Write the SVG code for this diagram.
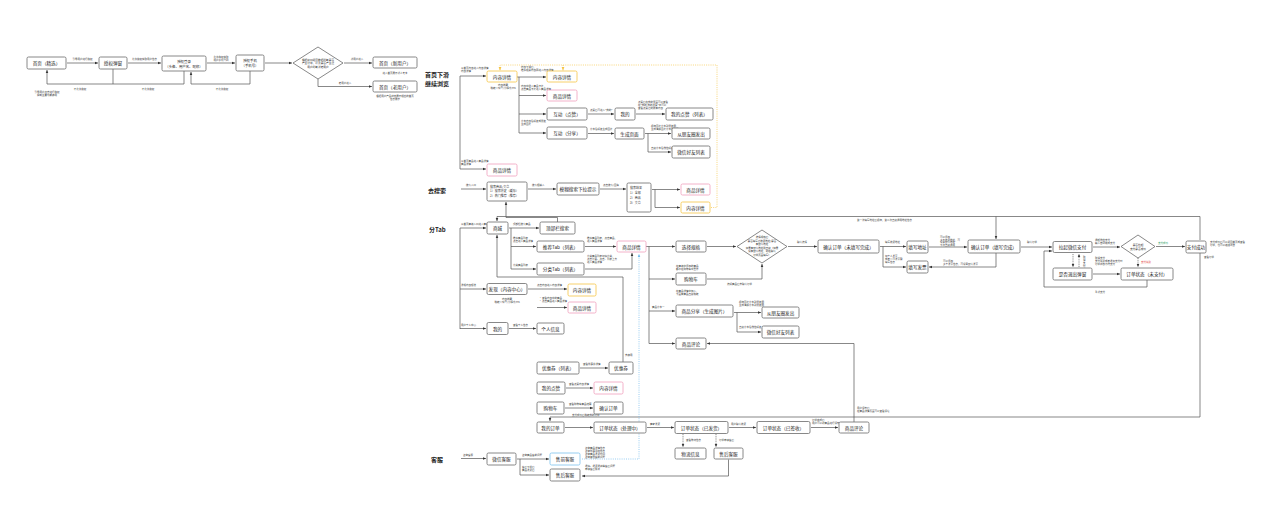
<svg xmlns="http://www.w3.org/2000/svg" width="1280" height="524" viewBox="0 0 1280 524">
<style>
text{font-family:"Noto Sans CJK SC","Noto Sans",sans-serif;fill:#222}
.n rect,.n polygon{fill:#fff;stroke:#6a6a6a;stroke-width:0.8}
.y rect{stroke:#f5c444}
.p rect{stroke:#f0a0bd}
.b rect{stroke:#7cc2ee}
.t{font-size:4.6px;text-anchor:middle;dominant-baseline:central}
.s{font-size:3.4px;text-anchor:middle;dominant-baseline:central}
.d{font-size:2.7px;text-anchor:middle;dominant-baseline:central}
.l{font-size:2.5px;fill:#333}
.m{font-size:2.5px;fill:#333;text-anchor:middle}
.h{font-size:6px;font-weight:bold}
.c{fill:none;stroke:#555;stroke-width:0.7}
.a{marker-end:url(#ar)}
.dash{stroke-dasharray:1.2 1}
.yl{fill:none;stroke:#f5c444;stroke-width:0.7;stroke-dasharray:1 1.2;marker-end:url(#ay)}
.bl{fill:none;stroke:#6fb8ec;stroke-width:0.7;stroke-dasharray:1 1.2;marker-end:url(#ab)}
</style>
<defs>
<marker id="ar" markerWidth="4" markerHeight="4" refX="3.4" refY="2" orient="auto" markerUnits="userSpaceOnUse"><path d="M0,0.6 L3.4,2 L0,3.4z" fill="#333"/></marker>
<marker id="ay" markerWidth="4" markerHeight="4" refX="3.4" refY="2" orient="auto" markerUnits="userSpaceOnUse"><path d="M0,0.6 L3.4,2 L0,3.4z" fill="#f5c444"/></marker>
<marker id="ab" markerWidth="4" markerHeight="4" refX="3.4" refY="2" orient="auto" markerUnits="userSpaceOnUse"><path d="M0,0.6 L3.4,2 L0,3.4z" fill="#6fb8ec"/></marker>
</defs>
<rect width="1280" height="524" fill="#fff"/>

<g id="connectors">
<!-- top-left flow -->
<path class="c a" d="M67,63 H98"/>
<path class="c a" d="M128,63 H161"/>
<path class="c a" d="M207,63 H235"/>
<path class="c a" d="M265,63 H292"/>
<path class="c a" d="M344,63 H372"/>
<path class="c a" d="M318,79 V86.5 H372"/>
<path class="c" d="M113,69 V84"/>
<path class="c a" d="M184,71 V84 H47 V70"/>
<path class="c a" d="M250,71 V84 H191 V72"/>
<!-- 首页下滑 -->
<path class="c" d="M460,76 V169"/>
<path class="c a" d="M460,76 H486"/>
<path class="c a" d="M460,169 H486"/>
<path class="c a" d="M517,77 H546"/>
<path class="c" d="M519,77 V133"/>
<path class="c a" d="M519,95.5 H546"/>
<path class="c a" d="M519,114 H546"/>
<path class="c a" d="M519,133 H546"/>
<path class="c a" d="M588,114 H614"/>
<path class="c a" d="M636,114 H665"/>
<path class="c a" d="M588,133.5 H614"/>
<path class="c a" d="M645,133.5 H671"/>
<path class="c a" d="M648,133.5 V152 H671"/>
<path class="yl" d="M711,207.5 H717 V65 H500 V70.5"/>
<path class="yl" d="M563,65 V70.5"/>
<!-- 去搜索 -->
<path class="c a" d="M461,189 H486"/>
<path class="c a" d="M528,189 H556"/>
<path class="c a" d="M600,189 H626"/>
<path class="c a" d="M652,189.5 H680"/>
<path class="c a" d="M655,189.5 V207.5 H680"/>
<!-- 分Tab -->
<path class="c" d="M460,228 V329"/>
<path class="c a" d="M460,228 H486"/>
<path class="c a" d="M460,289 H486"/>
<path class="c a" d="M460,328.5 H486"/>
<path class="c a" d="M509,228 H539"/>
<path class="c" d="M511,228 V269"/>
<path class="c a" d="M511,246.5 H536"/>
<path class="c a" d="M511,269 H536"/>
<path class="c a" d="M585,246.5 H616"/>
<path class="c a" d="M585,269 H632 V253"/>
<path class="c a" d="M557.5,222 V217.5 H506 V202"/>
<path class="c a" d="M1200,240 V216.5 H497 V221"/>
<path class="c a" d="M996,216.5 V239"/>
<path class="c a" d="M623,362 V277 H497 V235"/>
<path class="c a" d="M528,289 H567"/>
<path class="c a" d="M537,307.5 H567"/>
<path class="c a" d="M509,328.5 H536"/>
<!-- 商品详情 branches -->
<path class="c a" d="M646,246.5 H675"/>
<path class="c" d="M649,246.5 V343.5"/>
<path class="c a" d="M649,279 H675"/>
<path class="c a" d="M649,311 H675"/>
<path class="c a" d="M649,343.5 H675"/>
<path class="c a" d="M707,246.5 H736"/>
<path class="c a" d="M707,279 H762 V264"/>
<path class="c a" d="M788,246.5 H817"/>
<path class="c a" d="M734,312.5 H761"/>
<path class="c a" d="M737,312.5 V332 H761"/>
<path class="c a" d="M854,422 V343.5 H707"/>
<!-- order -->
<path class="c a" d="M880,246.5 H906"/>
<path class="c a" d="M883,246.5 V267 H906"/>
<path class="c a" d="M929,247 H967"/>
<path class="c a" d="M996,253 V267 H929"/>
<path class="c a" d="M1021,247 H1052"/>
<path class="c a" d="M1093,247 H1120"/>
<path class="c a" d="M1156,246.5 H1185"/>
<path class="c a dash" d="M1138,258 V267"/>
<path class="c a dash" d="M1073,254 V267"/>
<path class="c a dash" d="M1079,267 V254"/>
<path class="c a" d="M1093,274 H1120"/>
<path class="c a" d="M1147,280 V287 H1044 V251 H1052"/>
<path class="c a" d="M1200,253 V417 H550 V421"/>
<!-- 我的 -->
<path class="c a" d="M580,368 H608"/>
<path class="c a" d="M566,388 H593"/>
<path class="c a" d="M565,408 H593"/>
<path class="c a" d="M565,427.5 H593"/>
<path class="c a" d="M647,427.5 H674"/>
<path class="c a" d="M729,427.5 H756"/>
<path class="c a" d="M811,427.5 H838"/>
<path class="c a dash" d="M683,434 V447"/>
<path class="c a dash" d="M716,434 V447"/>
<path class="bl" d="M582,459 H639 V254"/>
<!-- 客服 -->
<path class="c a" d="M461,458.5 H486"/>
<path class="c" d="M517,459 H520 V475"/>
<path class="c a" d="M520,459 H549"/>
<path class="c a" d="M520,475 H549"/>
<path class="c a" d="M728.5,459.5 V476 H582"/>
</g>

<g id="edge-labels">
<text class="m" x="82.5" y="60">引导用户进行授权</text>
<text class="m" x="144.5" y="60">允许授权获取用户信息</text>
<text class="m" x="221" y="57.5">允许授权获取</text>
<text class="m" x="221" y="60.5">用户手机号码</text>
<text class="m" x="357" y="60">新用户进入</text>
<text class="m" x="345" y="83.5">老用户进入</text>
<text class="m" x="80" y="89.5">不允许授权</text>
<text class="m" x="148" y="89.5">不允许授权</text>
<text class="m" x="222" y="89.5">不允许授权</text>
<text class="m" x="47" y="93">引导用户点击进行授权</text>
<text class="m" x="47" y="96">限制主要功能使用</text>
<text class="m" x="395" y="73.5">进入首页展示新人专享</text>
<text class="m" x="395" y="97">根据用户产品状态展示相应的首页</text>
<text class="m" x="395" y="100">信息展示</text>

<text class="l" x="461" y="68.5">从首页内容进入内容详情</text>
<text class="l" x="461" y="71.5">内容详情</text>
<text class="l" x="461" y="161.5">从首页商品进入商品详情</text>
<text class="l" x="461" y="164.5">商品详情</text>
<text class="m" x="503" y="85.5">内容收藏</text>
<text class="m" x="503" y="88.5">跳转公众号/小程序/H5</text>
<text class="l" x="521" y="68">内容下滑后，</text>
<text class="l" x="521" y="71">推荐相关内容再进入内容详情</text>
<text class="l" x="521" y="86.5">内容中插入商品卡片，</text>
<text class="l" x="521" y="89.5">点击商品卡片进入商品详情</text>
<text class="l" x="521" y="121.5">分享内容给好友或朋友</text>
<text class="l" x="521" y="124.5">生成图片</text>
<text class="l" x="590" y="110.5">点赞后可进入"我的"</text>
<text class="l" x="638" y="102.5">点赞后在我的里面可以查看</text>
<text class="l" x="638" y="105.5">在"我的-我的点赞"中可以</text>
<text class="l" x="638" y="108.5">查看点赞过的所有内容</text>
<text class="l" x="590" y="130">分享给好友生成图片</text>
<text class="l" x="651" y="126.5">保存图片分享到朋友圈</text>
<text class="l" x="651" y="129.5">生成海报图片分享朋友圈</text>
<text class="l" x="651" y="148.5">直接分享给微信好友</text>

<text class="l" x="466" y="185.5">搜索入口</text>
<text class="l" x="532" y="185.5">搜索框输入</text>
<text class="l" x="603" y="185.5">点击搜索/回车</text>

<text class="l" x="461" y="224.5">从首页商城入口进入商城</text>
<text class="l" x="513" y="224.5">顶部栏搜索商品</text>
<text class="l" x="513" y="238.5">推荐商品列表</text>
<text class="l" x="513" y="241.5">点击进入商品详情</text>
<text class="l" x="513" y="265.5">分类商品列表</text>
<text class="l" x="587" y="238.5">推荐商品列表，点击商品，</text>
<text class="l" x="587" y="241.5">进入商品详情</text>
<text class="l" x="587" y="257">分类商品列表切换分类，</text>
<text class="l" x="587" y="260">点击分类、点击、列表上方</text>
<text class="l" x="587" y="263">进入商品详情</text>
<text class="l" x="625" y="355.5">去使用</text>
<text class="l" x="461" y="286">发现内容频道</text>
<text class="l" x="537" y="285.5">点击内容进入内容详情</text>
<text class="l" x="539" y="298.5">• 查看内容中的商品</text>
<text class="l" x="539" y="301.5">• 点击商品进入商品详情</text>
<text class="m" x="507" y="299.5">内容收藏</text>
<text class="m" x="507" y="302.5">跳转公众号/小程序/H5</text>
<text class="l" x="461" y="325.5">用户个人中心</text>
<text class="l" x="513" y="325.5">查看个人信息</text>

<text class="l" x="676" y="266.5">在商城中添加的商品</text>
<text class="l" x="676" y="269.5">都会在购物车中显示</text>
<text class="l" x="676" y="291.5">在商品详情中加入，</text>
<text class="l" x="676" y="294.5">下面有商品直接跳转</text>
<text class="l" x="652" y="308">商品分享一</text>
<text class="l" x="727" y="284.5">选好商品后去确认订单</text>
<text class="l" x="739" y="303">保存图片分享到朋友圈</text>
<text class="l" x="739" y="306">生成海报分享到朋友圈</text>
<text class="l" x="739" y="328">直接分享给微信好友</text>
<text class="l" x="797" y="242.5">确认选择</text>

<text class="l" x="885" y="242.5">填写收货地址</text>
<text class="l" x="885" y="256.5">如个人发票</text>
<text class="l" x="885" y="259.5">或者公司发票需</text>
<text class="l" x="885" y="262.5">填写信息</text>
<text class="l" x="940" y="238">可以添加</text>
<text class="l" x="940" y="240.5">多个收货地址，可</text>
<text class="l" x="940" y="243">设置默认地址</text>
<text class="l" x="940" y="245.5">下次直接调用</text>
<text class="l" x="943" y="261.5">可以添加</text>
<text class="l" x="943" y="264.5">多个发票信息，可设置默认发票</text>
<text class="l" x="857" y="220.5">第一次填写地址后保存，第二次直接调用地址信息</text>
<text class="l" x="1027" y="242.5">确认订单</text>
<text class="l" x="1095" y="240.5">调起微信支付</text>
<text class="l" x="1095" y="243.5">输入密码完成支付</text>
<text class="l" x="1158" y="244" style="fill:#1a9a5a">支付成功</text>
<text class="l" x="1141" y="263" style="fill:#e03030">支付失败</text>
<text class="l" x="1095" y="259">取消支付</text>
<text class="l" x="1095" y="262">支付失败或者退出支付时</text>
<text class="l" x="1095" y="265">订单状态为待支付</text>
<text class="l" x="1083" y="257.5">取</text>
<text class="l" x="1083" y="260.5">消</text>
<text class="l" x="1083" y="263.5">支</text>
<text class="l" x="1083" y="266.5">付</text>
<text class="l" x="1095" y="293">重新支付</text>
<text class="l" x="1210" y="243">支付成功后可以返回首页或查看</text>
<text class="l" x="1210" y="246">订单，也可以继续浏览</text>
<text class="l" x="1204" y="257.5">查看订单</text>

<text class="l" x="572" y="415.5">支付成功后跳转我的订单</text>
<text class="l" x="583" y="365">查看优惠券详情</text>
<text class="l" x="569" y="385">查看点赞内容详情</text>
<text class="l" x="569" y="405">查看购物车商品结算</text>
<text class="l" x="650" y="424.5">商家发货</text>
<text class="l" x="731" y="424.5">用户确认收货</text>
<text class="l" x="812" y="420.5">订单完成后</text>
<text class="l" x="812" y="423.5">用户可以对商品进行评价</text>
<text class="l" x="686" y="441">查看物流信息</text>
<text class="l" x="719" y="441">订单申请售后</text>
<text class="l" x="857" y="408.5">用户评价后</text>
<text class="l" x="857" y="411.5">在商品详情页面可以查看评论</text>

<text class="l" x="463" y="455.5">咨询客服</text>
<text class="l" x="522" y="456">咨询商品售前问题</text>
<text class="l" x="522" y="468">售后下单后</text>
<text class="l" x="522" y="471">商品发货后</text>
<text class="l" x="585" y="449">咨询商品详情信息</text>
<text class="l" x="585" y="452">咨询优惠活动信息</text>
<text class="l" x="585" y="455">咨询商品发货时间</text>
<text class="l" x="585" y="458">咨询其他售前问题</text>
<text class="l" x="585" y="467">退换、退货退款等售后问题</text>
<text class="l" x="585" y="470">申请售后服务</text>
</g>

<g id="headings">
<text class="h" x="425" y="77">首页下滑</text>
<text class="h" x="425" y="86">继续浏览</text>
<text class="h" x="428" y="192.5">去搜索</text>
<text class="h" x="429" y="231.5">分Tab</text>
<text class="h" x="431" y="461.5">客服</text>
</g>

<!-- top-left nodes -->
<g id="n-home" class="n"><rect x="27" y="57" width="39" height="12" rx="1.5"/><text class="t" x="46.5" y="63">首页（精选）</text></g>
<g id="n-auth" class="n"><rect x="99" y="57" width="28" height="12" rx="1.5"/><text class="t" x="113" y="63">授权弹窗</text></g>
<g id="n-login" class="n"><rect x="162" y="56" width="44" height="15" rx="1.5"/><text class="s" x="184" y="61">授权登录</text><text class="s" x="184" y="66">（头像、用户名、昵称）</text></g>
<g id="n-phone" class="n"><rect x="236" y="55" width="28" height="16" rx="1.5"/><text class="s" x="250" y="60.5">授权手机</text><text class="s" x="250" y="65.5">（手机号）</text></g>
<g id="n-judge" class="n"><polygon points="318,47 343,63 318,79 293,63"/><text class="d" x="318" y="59.5">根据接口返回数据判断是否</text><text class="d" x="318" y="63">产生订单，以及是否产生过</text><text class="d" x="318" y="66.5">用户判断新老用户</text></g>
<g id="n-home-new" class="n"><rect x="373" y="57" width="44" height="11" rx="1.5"/><text class="t" x="395" y="62.5">首页（新用户）</text></g>
<g id="n-home-old" class="n"><rect x="373" y="81" width="44" height="11" rx="1.5"/><text class="t" x="395" y="86.5">首页（老用户）</text></g>

<!-- 首页下滑 nodes -->
<g id="n-content1" class="n y"><rect x="487" y="71" width="30" height="11" rx="1.5"/><text class="t" x="502" y="76.5">内容详情</text></g>
<g id="n-goods1" class="n p"><rect x="487" y="164" width="30" height="12" rx="1.5"/><text class="t" x="502" y="170">商品详情</text></g>
<g id="n-content2" class="n y"><rect x="547" y="71" width="30" height="11" rx="1.5"/><text class="t" x="562" y="76.5">内容详情</text></g>
<g id="n-goods2" class="n p"><rect x="547" y="90" width="30" height="11" rx="1.5"/><text class="t" x="562" y="95.5">商品详情</text></g>
<g id="n-like" class="n"><rect x="547" y="108" width="40" height="12" rx="1.5"/><text class="t" x="567" y="114">互动（点赞）</text></g>
<g id="n-share" class="n"><rect x="547" y="127" width="40" height="12" rx="1.5"/><text class="t" x="567" y="133">互动（分享）</text></g>
<g id="n-mine1" class="n"><rect x="615" y="108" width="20" height="12" rx="1.5"/><text class="t" x="625" y="114">我的</text></g>
<g id="n-mylikes1" class="n"><rect x="666" y="108" width="47" height="12" rx="1.5"/><text class="t" x="689.5" y="114">我的点赞（列表）</text></g>
<g id="n-genpage" class="n"><rect x="615" y="128" width="29" height="11" rx="1.5"/><text class="t" x="629.5" y="133.5">生成页面</text></g>
<g id="n-moments1" class="n"><rect x="672" y="128" width="38" height="11" rx="1.5"/><text class="t" x="691" y="133.5">从朋友圈发出</text></g>
<g id="n-friends1" class="n"><rect x="672" y="146" width="38" height="12" rx="1.5"/><text class="t" x="691" y="152">微信好友列表</text></g>

<!-- 去搜索 nodes -->
<g id="n-search" class="n"><rect x="487" y="182" width="40" height="19" rx="1.5"/><text class="l" x="490" y="187.5" style="font-size:3px">搜索商品/文章</text><text class="l" x="490" y="192" style="font-size:3px">1）搜索历史（缓存）</text><text class="l" x="490" y="196.5" style="font-size:3px">2）热门推荐（推荐）</text></g>
<g id="n-fuzzy" class="n"><rect x="557" y="183" width="42" height="12" rx="1.5"/><text class="t" x="578" y="189">模糊搜索下拉提示</text></g>
<g id="n-result" class="n"><rect x="627" y="183" width="24" height="29" rx="1.5"/><text class="l" x="630" y="188.5" style="font-size:3px">搜索结果</text><text class="l" x="630" y="193.5" style="font-size:3px">1）全部</text><text class="l" x="630" y="198.5" style="font-size:3px">2）商品</text><text class="l" x="630" y="203.5" style="font-size:3px">3）文章</text></g>
<g id="n-goods3" class="n p"><rect x="681" y="184" width="29" height="11" rx="1.5"/><text class="t" x="695.5" y="189.5">商品详情</text></g>
<g id="n-content3" class="n y"><rect x="681" y="202" width="29" height="11" rx="1.5"/><text class="t" x="695.5" y="207.5">内容详情</text></g>

<!-- 分Tab nodes -->
<g id="n-mall" class="n"><rect x="487" y="222" width="21" height="12" rx="1.5"/><text class="t" x="497.5" y="228">商城</text></g>
<g id="n-topsearch" class="n"><rect x="540" y="222" width="35" height="12" rx="1.5"/><text class="t" x="557.5" y="228">顶部栏搜索</text></g>
<g id="n-rectab" class="n"><rect x="537" y="241" width="47" height="11" rx="1.5"/><text class="t" x="560.5" y="246.5">推荐Tab（列表）</text></g>
<g id="n-cattab" class="n"><rect x="537" y="263" width="47" height="12" rx="1.5"/><text class="t" x="560.5" y="269">分类Tab（列表）</text></g>
<g id="n-goods4" class="n p"><rect x="617" y="241" width="29" height="11" rx="1.5"/><text class="t" x="631.5" y="246.5">商品详情</text></g>
<g id="n-discover" class="n"><rect x="487" y="283.5" width="40" height="11" rx="1.5"/><text class="t" x="507" y="289">发现（内容中心）</text></g>
<g id="n-content4" class="n y"><rect x="568" y="284" width="28" height="12" rx="1.5"/><text class="t" x="582" y="290">内容详情</text></g>
<g id="n-goods5" class="n p"><rect x="568" y="302" width="28" height="11" rx="1.5"/><text class="t" x="582" y="307.5">商品详情</text></g>
<g id="n-mine2" class="n"><rect x="487" y="322.5" width="21" height="12" rx="1.5"/><text class="t" x="497.5" y="328.5">我的</text></g>
<g id="n-profile" class="n"><rect x="537" y="323" width="27" height="11" rx="1.5"/><text class="t" x="550.5" y="328.5">个人信息</text></g>

<g id="n-spec" class="n"><rect x="676" y="241" width="30" height="11" rx="1.5"/><text class="t" x="691" y="246.5">选择规格</text></g>
<g id="n-cart1" class="n"><rect x="676" y="273" width="30" height="12" rx="1.5"/><text class="t" x="691" y="279">购物车</text></g>
<g id="n-goodsshare" class="n"><rect x="676" y="305" width="57" height="12" rx="1.5"/><text class="t" x="704.5" y="311">商品分享（生成图片）</text></g>
<g id="n-review1" class="n"><rect x="676" y="338" width="30" height="11" rx="1.5"/><text class="t" x="691" y="343.5">商品评论</text></g>
<g id="n-addrcheck" class="n"><polygon points="762,230 787,246.5 762,263 737,246.5"/>
<text class="d" x="762" y="237" style="font-size:2.5px">选择规格后</text>
<text class="d" x="762" y="240.5" style="font-size:2.5px">是否填写过收货地址/是否</text>
<text class="d" x="762" y="244" style="font-size:2.5px">有默认地址</text>
<text class="d" x="762" y="247.5" style="font-size:2.5px">如果有默认地址则直接（如果</text>
<text class="d" x="762" y="251" style="font-size:2.5px">没有默认地址，则在确认</text>
<text class="d" x="762" y="254.5" style="font-size:2.5px">订单页面填写）</text></g>
<g id="n-moments2" class="n"><rect x="762" y="307" width="37" height="11" rx="1.5"/><text class="t" x="780.5" y="312.5">从朋友圈发出</text></g>
<g id="n-friends2" class="n"><rect x="762" y="326" width="37" height="12" rx="1.5"/><text class="t" x="780.5" y="332">微信好友列表</text></g>

<g id="n-order-unfilled" class="n"><rect x="818" y="240" width="61" height="13" rx="1.5"/><text class="t" x="848.5" y="246.5">确认订单（未填写完成）</text></g>
<g id="n-address" class="n"><rect x="907" y="241" width="21" height="12" rx="1.5"/><text class="t" x="917.5" y="247">填写地址</text></g>
<g id="n-invoice" class="n"><rect x="907" y="261" width="21" height="12" rx="1.5"/><text class="t" x="917.5" y="267">填写发票</text></g>
<g id="n-order-filled" class="n"><rect x="968" y="240" width="52" height="13" rx="1.5"/><text class="t" x="994" y="246.5">确认订单（填写完成）</text></g>
<g id="n-wxpay" class="n"><rect x="1053" y="241.5" width="39" height="11" rx="1.5"/><text class="t" x="1072.5" y="247">拉起微信支付</text></g>
<g id="n-paycheck" class="n"><polygon points="1138,235 1155,246.5 1138,258 1121,246.5"/><text class="d" x="1138" y="244.8">是否拉起</text><text class="d" x="1138" y="248.5">支付是否成功</text></g>
<g id="n-paid" class="n"><rect x="1186" y="241" width="20" height="12" rx="1.5"/><text class="t" x="1196" y="247">支付成功</text></g>
<g id="n-exitpop" class="n"><rect x="1053" y="268" width="39" height="12" rx="1.5"/><text class="t" x="1072.5" y="274">是否退出弹窗</text></g>
<g id="n-unpaid" class="n"><rect x="1121" y="268" width="52" height="12" rx="1.5"/><text class="t" x="1147" y="274">订单状态（未支付）</text></g>

<!-- 我的 sub -->
<g id="n-couponlist" class="n"><rect x="537" y="362" width="42" height="12" rx="1.5"/><text class="t" x="558" y="368">优惠券（列表）</text></g>
<g id="n-coupon" class="n"><rect x="609" y="362" width="24" height="12" rx="1.5"/><text class="t" x="621" y="368">优惠券</text></g>
<g id="n-mylikes2" class="n"><rect x="537" y="382" width="28" height="12" rx="1.5"/><text class="t" x="551" y="388">我的点赞</text></g>
<g id="n-content5" class="n p"><rect x="594" y="382" width="29" height="12" rx="1.5"/><text class="t" x="608.5" y="388">内容详情</text></g>
<g id="n-cart2" class="n"><rect x="537" y="402" width="27" height="12" rx="1.5"/><text class="t" x="550.5" y="408">购物车</text></g>
<g id="n-confirm" class="n"><rect x="594" y="402" width="29" height="12" rx="1.5"/><text class="t" x="608.5" y="408">确认订单</text></g>
<g id="n-myorder" class="n"><rect x="537" y="422" width="27" height="11" rx="1.5"/><text class="t" x="550.5" y="427.5">我的订单</text></g>
<g id="n-processing" class="n"><rect x="594" y="422" width="52" height="11" rx="1.5"/><text class="t" x="620" y="427.5">订单状态（处理中）</text></g>
<g id="n-shipped" class="n"><rect x="675" y="421.5" width="53" height="12" rx="1.5"/><text class="t" x="701.5" y="427.5">订单状态（已发货）</text></g>
<g id="n-signed" class="n"><rect x="757" y="421.5" width="53" height="12" rx="1.5"/><text class="t" x="783.5" y="427.5">订单状态（已签收）</text></g>
<g id="n-review2" class="n"><rect x="839" y="422" width="30" height="11" rx="1.5"/><text class="t" x="854" y="427.5">商品评论</text></g>
<g id="n-logistics" class="n"><rect x="675" y="448" width="31" height="11" rx="1.5"/><text class="t" x="690.5" y="453.5">物流信息</text></g>
<g id="n-aftersale2" class="n"><rect x="714" y="448" width="29" height="11" rx="1.5"/><text class="t" x="728.5" y="453.5">售后客服</text></g>

<!-- 客服 -->
<g id="n-wxservice" class="n"><rect x="487" y="453" width="29" height="12" rx="1.5"/><text class="t" x="501.5" y="459">微信客服</text></g>
<g id="n-presale" class="n b"><rect x="550" y="453" width="30" height="12" rx="1.5"/><text class="t" x="565" y="459">售前客服</text></g>
<g id="n-aftersale1" class="n"><rect x="550" y="469" width="30" height="12" rx="1.5"/><text class="t" x="565" y="475">售后客服</text></g>
</svg>
